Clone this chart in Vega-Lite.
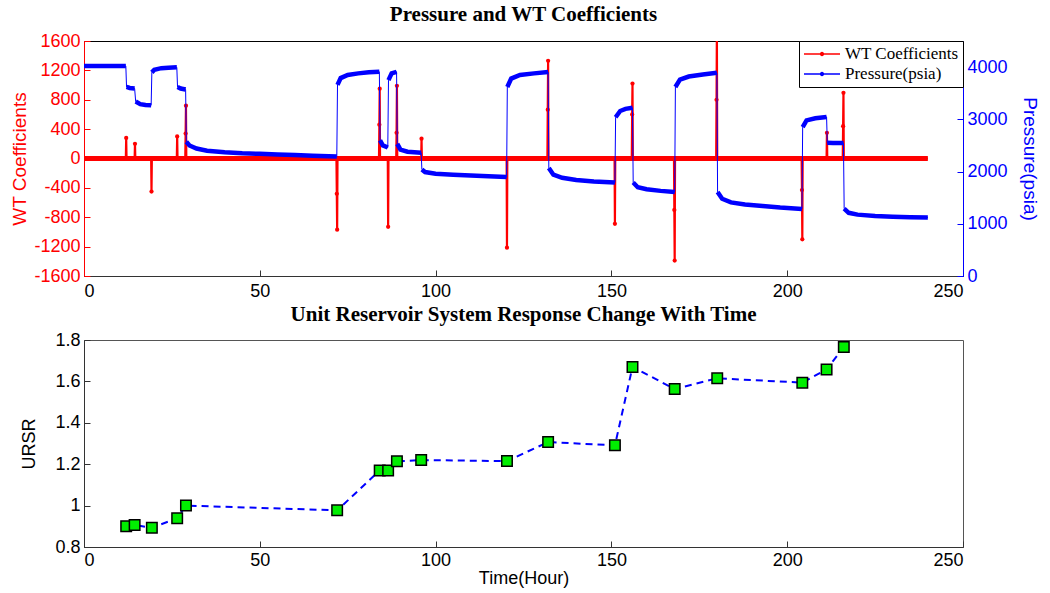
{
  "$schema": "https://vega.github.io/schema/vega-lite/v6.json",
  "background": "white",
  "padding": {"left": 10, "top": 3, "right": 5, "bottom": 5},
  "spacing": 2,
  "datasets": {
    "pressure": [
      {"t": 0, "p": 4020, "seg": 0}, {"t": 6, "p": 4020, "seg": 0}, {"t": 11.9, "p": 4020, "seg": 0},
      {"t": 12.1, "p": 3620, "seg": 1}, {"t": 13, "p": 3600, "seg": 1}, {"t": 14.4, "p": 3590, "seg": 1},
      {"t": 14.7, "p": 3340, "seg": 2}, {"t": 16, "p": 3290, "seg": 2}, {"t": 17.5, "p": 3275, "seg": 2}, {"t": 19.1, "p": 3270, "seg": 2},
      {"t": 19.3, "p": 3900, "seg": 3}, {"t": 20, "p": 3950, "seg": 3}, {"t": 22, "p": 3980, "seg": 3}, {"t": 24, "p": 3990, "seg": 3}, {"t": 26.4, "p": 3995, "seg": 3},
      {"t": 26.6, "p": 3620, "seg": 4}, {"t": 27.5, "p": 3590, "seg": 4}, {"t": 28.9, "p": 3570, "seg": 4},
      {"t": 29.1, "p": 2570, "seg": 5}, {"t": 30, "p": 2500, "seg": 5}, {"t": 32, "p": 2440, "seg": 5}, {"t": 35, "p": 2400, "seg": 5}, {"t": 40, "p": 2370, "seg": 5}, {"t": 45, "p": 2350, "seg": 5}, {"t": 50, "p": 2340, "seg": 5}, {"t": 55, "p": 2325, "seg": 5}, {"t": 60, "p": 2315, "seg": 5}, {"t": 65, "p": 2305, "seg": 5}, {"t": 71.9, "p": 2290, "seg": 5},
      {"t": 72.1, "p": 3660, "seg": 6}, {"t": 73, "p": 3790, "seg": 6}, {"t": 75, "p": 3850, "seg": 6}, {"t": 78, "p": 3880, "seg": 6}, {"t": 81, "p": 3900, "seg": 6}, {"t": 84, "p": 3910, "seg": 6},
      {"t": 84.2, "p": 2600, "seg": 7}, {"t": 85, "p": 2500, "seg": 7}, {"t": 86.4, "p": 2460, "seg": 7},
      {"t": 86.6, "p": 3750, "seg": 8}, {"t": 87.5, "p": 3880, "seg": 8}, {"t": 88.9, "p": 3910, "seg": 8},
      {"t": 89.1, "p": 2530, "seg": 9}, {"t": 90, "p": 2420, "seg": 9}, {"t": 92, "p": 2380, "seg": 9}, {"t": 95.9, "p": 2360, "seg": 9},
      {"t": 96.1, "p": 2040, "seg": 10}, {"t": 97, "p": 1990, "seg": 10}, {"t": 100, "p": 1960, "seg": 10}, {"t": 105, "p": 1940, "seg": 10}, {"t": 110, "p": 1925, "seg": 10}, {"t": 115, "p": 1910, "seg": 10}, {"t": 120.2, "p": 1895, "seg": 10},
      {"t": 120.4, "p": 3620, "seg": 11}, {"t": 121.5, "p": 3780, "seg": 11}, {"t": 124, "p": 3850, "seg": 11}, {"t": 128, "p": 3880, "seg": 11}, {"t": 132, "p": 3905, "seg": 11},
      {"t": 132.2, "p": 2070, "seg": 12}, {"t": 133.5, "p": 1940, "seg": 12}, {"t": 136, "p": 1880, "seg": 12}, {"t": 140, "p": 1840, "seg": 12}, {"t": 145, "p": 1810, "seg": 12}, {"t": 151, "p": 1790, "seg": 12},
      {"t": 151.2, "p": 3040, "seg": 13}, {"t": 152.5, "p": 3160, "seg": 13}, {"t": 154, "p": 3200, "seg": 13}, {"t": 156, "p": 3220, "seg": 13},
      {"t": 156.2, "p": 1790, "seg": 14}, {"t": 157.5, "p": 1700, "seg": 14}, {"t": 160, "p": 1660, "seg": 14}, {"t": 164, "p": 1630, "seg": 14}, {"t": 168, "p": 1610, "seg": 14},
      {"t": 168.2, "p": 3620, "seg": 15}, {"t": 169.5, "p": 3760, "seg": 15}, {"t": 172, "p": 3820, "seg": 15}, {"t": 176, "p": 3860, "seg": 15}, {"t": 180, "p": 3890, "seg": 15},
      {"t": 180.2, "p": 1610, "seg": 16}, {"t": 181.5, "p": 1480, "seg": 16}, {"t": 184, "p": 1410, "seg": 16}, {"t": 188, "p": 1370, "seg": 16}, {"t": 193, "p": 1340, "seg": 16}, {"t": 198, "p": 1310, "seg": 16}, {"t": 204.2, "p": 1285, "seg": 16},
      {"t": 204.4, "p": 2850, "seg": 17}, {"t": 205.5, "p": 2980, "seg": 17}, {"t": 208, "p": 3020, "seg": 17}, {"t": 211.2, "p": 3045, "seg": 17},
      {"t": 211.4, "p": 2550, "seg": 18}, {"t": 213, "p": 2545, "seg": 18}, {"t": 216, "p": 2545, "seg": 18},
      {"t": 216.2, "p": 1290, "seg": 19}, {"t": 217.5, "p": 1210, "seg": 19}, {"t": 220, "p": 1175, "seg": 19}, {"t": 225, "p": 1150, "seg": 19}, {"t": 230, "p": 1135, "seg": 19}, {"t": 235, "p": 1125, "seg": 19}, {"t": 240, "p": 1120, "seg": 19}
    ],
    "wt": [
      {"t": 0, "wt": 0},
      {"t": 11.9, "wt": 0}, {"t": 12.0, "wt": 280}, {"t": 12.1, "wt": 0},
      {"t": 14.4, "wt": 0}, {"t": 14.5, "wt": 200}, {"t": 14.6, "wt": 0},
      {"t": 19.1, "wt": 0}, {"t": 19.2, "wt": -450}, {"t": 19.3, "wt": 0},
      {"t": 26.4, "wt": 0}, {"t": 26.5, "wt": 300}, {"t": 26.6, "wt": 0},
      {"t": 28.8, "wt": 0}, {"t": 28.9, "wt": 340}, {"t": 29.0, "wt": 720}, {"t": 29.1, "wt": 0},
      {"t": 71.8, "wt": 0}, {"t": 71.9, "wt": -480}, {"t": 72.0, "wt": -970}, {"t": 72.1, "wt": 0},
      {"t": 83.9, "wt": 0}, {"t": 84.0, "wt": 460}, {"t": 84.1, "wt": 950}, {"t": 84.2, "wt": 0},
      {"t": 86.4, "wt": 0}, {"t": 86.5, "wt": -930}, {"t": 86.6, "wt": 0},
      {"t": 88.8, "wt": 0}, {"t": 88.9, "wt": 350}, {"t": 89.0, "wt": 990}, {"t": 89.1, "wt": 0},
      {"t": 95.9, "wt": 0}, {"t": 96.0, "wt": 270}, {"t": 96.1, "wt": 0},
      {"t": 120.2, "wt": 0}, {"t": 120.3, "wt": -1215}, {"t": 120.4, "wt": 0},
      {"t": 131.8, "wt": 0}, {"t": 131.9, "wt": 665}, {"t": 132.0, "wt": 1330}, {"t": 132.1, "wt": 0},
      {"t": 150.9, "wt": 0}, {"t": 151.0, "wt": -890}, {"t": 151.1, "wt": 0},
      {"t": 155.8, "wt": 0}, {"t": 155.9, "wt": 600}, {"t": 156.0, "wt": 1020}, {"t": 156.1, "wt": 0},
      {"t": 167.8, "wt": 0}, {"t": 167.9, "wt": -700}, {"t": 168.0, "wt": -1390}, {"t": 168.1, "wt": 0},
      {"t": 179.8, "wt": 0}, {"t": 179.9, "wt": 800}, {"t": 180.0, "wt": 1750}, {"t": 180.1, "wt": 0},
      {"t": 204.1, "wt": 0}, {"t": 204.2, "wt": -430}, {"t": 204.3, "wt": -1100}, {"t": 204.4, "wt": 0},
      {"t": 211.2, "wt": 0}, {"t": 211.3, "wt": 350}, {"t": 211.4, "wt": 0},
      {"t": 215.8, "wt": 0}, {"t": 215.9, "wt": 440}, {"t": 216.0, "wt": 895}, {"t": 216.1, "wt": 0},
      {"t": 240, "wt": 0}
    ],
    "ursr": [
      {"t": 12.0, "ursr": 0.900}, {"t": 14.4, "ursr": 0.906}, {"t": 19.3, "ursr": 0.893},
      {"t": 26.5, "ursr": 0.939}, {"t": 29.0, "ursr": 1.000}, {"t": 72.0, "ursr": 0.977},
      {"t": 84.1, "ursr": 1.170}, {"t": 86.5, "ursr": 1.170}, {"t": 89.0, "ursr": 1.214},
      {"t": 95.9, "ursr": 1.220}, {"t": 120.3, "ursr": 1.215}, {"t": 132.0, "ursr": 1.307},
      {"t": 151.0, "ursr": 1.291}, {"t": 156.0, "ursr": 1.670}, {"t": 168.0, "ursr": 1.563},
      {"t": 180.1, "ursr": 1.615}, {"t": 204.3, "ursr": 1.594}, {"t": 211.2, "ursr": 1.658},
      {"t": 216.1, "ursr": 1.766}
    ]
  },
  "vconcat": [
    {
      "title": {"text": "Pressure and WT Coefficients", "font": "Liberation Serif", "fontSize": 21, "fontWeight": "bold", "color": "black", "offset": 7},
      "width": 879,
      "height": 235,
      "view": {"stroke": "black", "strokeWidth": 1},
      "layer": [
        {
          "data": {"name": "wt"},
          "encoding": {
            "x": {"field": "t", "type": "quantitative", "scale": {"domain": [0, 250], "nice": false},
                  "axis": {"values": [0, 50, 100, 150, 200, 250], "title": null, "labelPadding": 12}},
            "y": {"field": "wt", "type": "quantitative", "scale": {"domain": [-1600, 1600], "nice": false},
                  "axis": {"orient": "left", "values": [-1600, -1200, -800, -400, 0, 400, 800, 1200, 1600], "labelExpr": "'' + datum.value", "title": "WT Coefficients",
                           "labelColor": "#ff0000", "titleColor": "#ff0000", "domainColor": "#ff0000", "tickColor": "#ff0000", "titlePadding": 4, "titleFontSize": 19}},
            "color": {"datum": "WT Coefficients", "type": "nominal",
                      "scale": {"domain": ["WT Coefficients", "Pressure(psia)"], "range": ["#ff0000", "#0000ff"]},
                      "legend": {"title": null, "orient": "top-right", "offset": 0, "strokeColor": "black", "fillColor": "white",
                                 "padding": 4, "labelFont": "Liberation Serif", "labelFontSize": 17, "labelColor": "black",
                                 "symbolType": "M-1,0H1M-0.08,0a0.08,0.08 0 1,0 0.16,0a0.08,0.08 0 1,0 -0.16,0",
                                 "symbolSize": 1300, "symbolStrokeWidth": 1.5, "clipHeight": 18, "rowPadding": 2, "labelOffset": 4}}
          },
          "layer": [
            {"mark": {"type": "line", "strokeWidth": 2.2, "clip": true}},
            {"transform": [{"filter": "datum.wt == 0"}], "mark": {"type": "line", "strokeWidth": 5, "clip": true}},
            {"transform": [{"filter": "datum.wt != 0"}], "mark": {"type": "point", "filled": true, "size": 18, "opacity": 1, "clip": true}}
          ]
        },
        {
          "data": {"name": "pressure"},
          "encoding": {
            "x": {"field": "t", "type": "quantitative", "scale": {"domain": [0, 250], "nice": false}},
            "y": {"field": "p", "type": "quantitative", "scale": {"domain": [0, 4500], "nice": false},
                  "axis": {"orient": "right", "values": [0, 1000, 2000, 3000, 4000], "labelExpr": "'' + datum.value", "title": "Pressure(psia)",
                           "labelColor": "#0000ff", "titleColor": "#0000ff", "domainColor": "#0000ff", "tickColor": "#0000ff", "titlePadding": 12, "titleFontSize": 19}},
            "color": {"datum": "Pressure(psia)", "type": "nominal"}
          },
          "layer": [
            {"mark": {"type": "line", "strokeWidth": 1}},
            {"mark": {"type": "line", "strokeWidth": 4.5}, "encoding": {"detail": {"field": "seg", "type": "nominal"}}}
          ]
        }
      ],
      "resolve": {"scale": {"y": "independent"}}
    },
    {
      "title": {"text": "Unit Reservoir System Response Change With Time", "font": "Liberation Serif", "fontSize": 21, "fontWeight": "bold", "color": "black", "offset": 6},
      "width": 879,
      "height": 207,
      "view": {"stroke": "#555555", "strokeWidth": 1},
      "data": {"name": "ursr"},
      "encoding": {
        "x": {"field": "t", "type": "quantitative", "scale": {"domain": [0, 250], "nice": false},
              "axis": {"values": [0, 50, 100, 150, 200, 250], "title": "Time(Hour)", "titlePadding": 0, "labelPadding": 10}},
        "y": {"field": "ursr", "type": "quantitative", "scale": {"domain": [0.8, 1.8], "nice": false},
              "axis": {"values": [0.8, 1.0, 1.2, 1.4, 1.6, 1.8], "labelExpr": "'' + datum.value", "title": "URSR", "titlePadding": 16}}
      },
      "layer": [
        {"mark": {"type": "line", "color": "#0000ff", "strokeWidth": 2, "strokeDash": [7, 5]}},
        {"mark": {"type": "square", "filled": true, "fill": "#00ee00", "stroke": "black", "strokeWidth": 1.5, "size": 110, "opacity": 1}}
      ]
    }
  ],
  "config": {
    "axis": {"grid": false, "labelFont": "Liberation Sans", "labelFontSize": 18, "titleFont": "Liberation Sans", "titleFontSize": 18,
             "titleFontWeight": "normal", "titleColor": "black", "labelColor": "black", "domainColor": "#333333", "tickColor": "#333333",
             "tickSize": -6, "labelPadding": 10}
  }
}
